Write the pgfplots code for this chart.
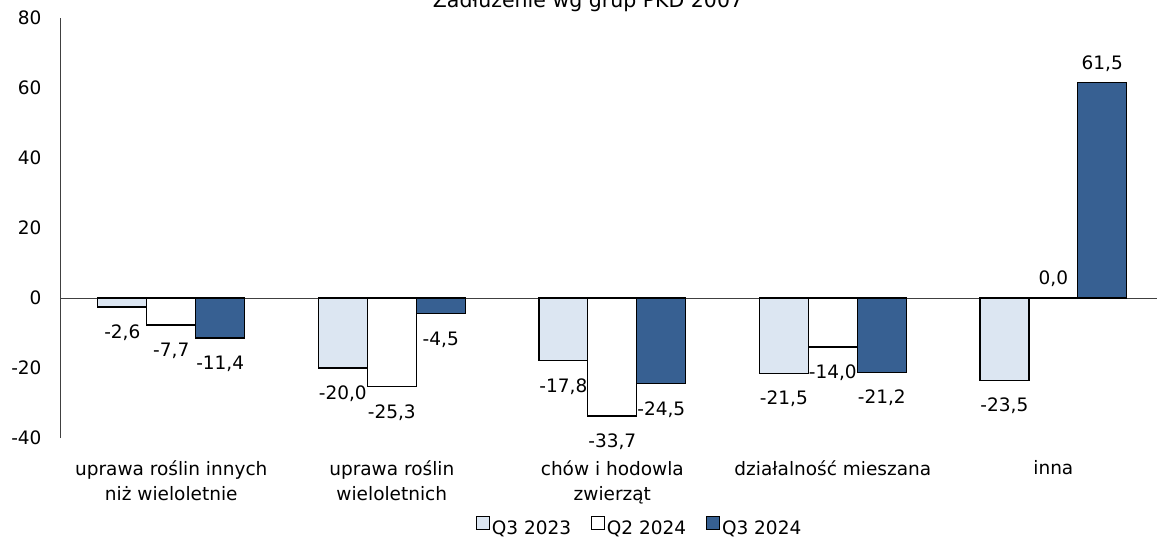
\documentclass[border=0pt]{standalone}
\usepackage{pgfplots}
\pgfplotsset{compat=1.18}
\usepackage{fontspec}
\setmainfont{DejaVu Sans}
\definecolor{lightb}{HTML}{DCE6F2}
\definecolor{darkb}{HTML}{376092}
\newcommand{\chartfont}{\fontsize{18.5}{25}\selectfont}
\begin{document}
\begin{tikzpicture}
\begin{axis}[
  at={(0pt,0pt)}, anchor=south west,
  scale only axis, width=1096pt, height=420pt,
  xmin=-0.5, xmax=4.47, ymin=-40, ymax=80,
  ytick={-40,-20,...,80},
  xtick={0,1,2,3,4},
  xticklabels={{uprawa roślin innych\\niż wieloletnie},{uprawa roślin\\wieloletnich},{chów i hodowla\\zwierząt},{działalność mieszana},{inna}},
  xticklabel style={align=center, yshift=-19pt},
  yticklabel style={xshift=-16pt},
  major tick length=0pt,
  axis y line*=left,
  axis x line*=bottom,
  x axis line style={draw=none},
  y axis line style={-, black!75, line width=1pt},
  extra y ticks={0}, extra y tick labels={},
  extra y tick style={grid=major, major grid style={black!75, line width=0.9pt}},
  font=\chartfont,
  /pgf/number format/assume math mode=true,
  ybar, bar width=0.222,
  nodes near coords={\pgfmathprintnumber[fixed,fixed zerofill,precision=1,use comma,assume math mode=true]{\pgfplotspointmeta}},
  nodes near coords align=vertical,
  visualization depends on={rawy \as \rawy},
  every node near coord/.append style={font=\chartfont, black, yshift={-14*(\rawy<0)+7*(\rawy>=0)}},
  legend style={at={(0.528,-0.212)}, anchor=center, draw=none, legend columns=-1,
    font=\chartfont,
    /tikz/every even column/.append style={column sep=18pt}},
  legend image code/.code={\draw[#1, line width=0.8pt] (0pt,-1pt) rectangle (13pt,12pt);},
]
\addplot[fill=lightb, draw=black, line width=1.3pt, bar shift=-0.222] coordinates {(0,-2.6) (1,-20.0) (2,-17.8) (3,-21.5) (4,-23.5)};
\addplot[fill=white, draw=black, line width=1.3pt, bar shift=0] coordinates {(0,-7.7) (1,-25.3) (2,-33.7) (3,-14.0) (4,0.0)};
\addplot[fill=darkb, draw=black, line width=1.3pt, bar shift=0.222] coordinates {(0,-11.4) (1,-4.5) (2,-24.5) (3,-21.2) (4,61.5)};
\legend{Q3 2023, Q2 2024, Q3 2024}
\end{axis}
\node[anchor=base, font=\fontsize{20.5}{25}\selectfont] at (527pt,431pt) {Zadłużenie wg grup PKD 2007};
\pgfresetboundingbox
\path[use as bounding box] (-61pt,-104pt) rectangle (1096pt,438pt);
\end{tikzpicture}
\end{document}
